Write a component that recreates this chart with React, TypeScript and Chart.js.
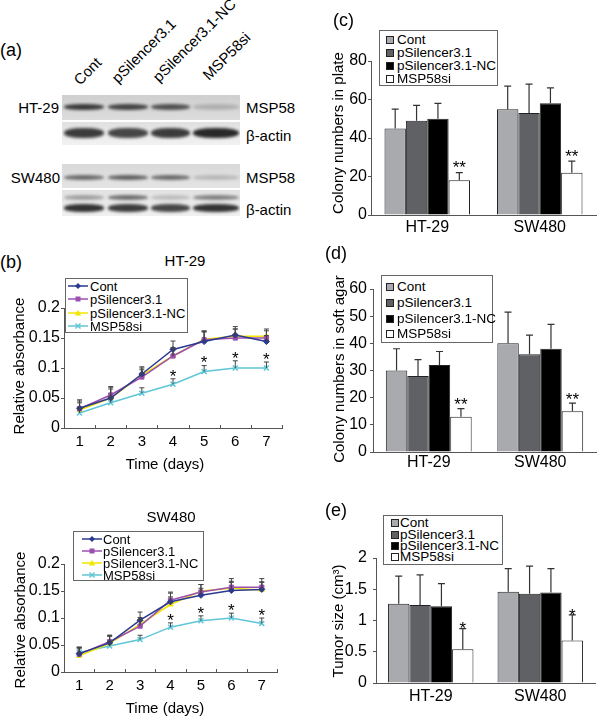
import React, { useEffect, useRef } from "react";
import { Chart, registerables } from "chart.js";
Chart.register(...registerables);

const FONT = "'Liberation Sans', Arial, Helvetica, sans-serif";
const AX = "#555";

// ---------------- data ----------------
const seriesNames = ["Cont", "pSilencer3.1", "pSilencer3.1-NC", "MSP58si"];
const days = ["1", "2", "3", "4", "5", "6", "7"];
const cellLines = ["HT-29", "SW480"];

// (b) HT-29 growth
const htCont = [0.033, 0.05, 0.09, 0.131, 0.144, 0.155, 0.144];
const htPsil = [0.032, 0.055, 0.085, 0.12, 0.147, 0.15, 0.15];
const htNc = [0.03, 0.05, 0.088, 0.12, 0.148, 0.153, 0.153];
const htMsp = [0.025, 0.042, 0.058, 0.073, 0.094, 0.1, 0.1];
const htContErr = [0.014, 0.018, 0.012, 0.014, 0.016, 0.014, 0.01];
const htPsilErr = [0.013, 0.014, 0.012, 0.013, 0.014, 0.015, 0.012];
const htNcErr = [0.012, 0.015, 0.012, 0.014, 0.014, 0.012, 0.012];
const htMspErr = [0.008, 0.009, 0.009, 0.009, 0.01, 0.012, 0.01];
const htStars = ["", "", "", "*", "*", "*", "*"];

// (b) SW480 growth
const swCont = [0.034, 0.054, 0.096, 0.13, 0.142, 0.151, 0.153];
const swPsil = [0.033, 0.056, 0.085, 0.133, 0.148, 0.157, 0.157];
const swNc = [0.03, 0.053, 0.088, 0.125, 0.15, 0.155, 0.152];
const swMsp = [0.036, 0.048, 0.06, 0.083, 0.095, 0.1, 0.09];
const swContErr = [0.012, 0.014, 0.015, 0.016, 0.013, 0.015, 0.014];
const swPsilErr = [0.012, 0.012, 0.012, 0.015, 0.014, 0.016, 0.016];
const swNcErr = [0.013, 0.013, 0.013, 0.014, 0.012, 0.013, 0.014];
const swMspErr = [0.01, 0.008, 0.008, 0.008, 0.009, 0.009, 0.01];
const swStars = ["", "", "", "*", "*", "*", "*"];

// (c) colony numbers in plate
const plateCont = [45, 55];
const platePsil = [49, 53];
const plateNc = [50, 58];
const plateMsp = [18, 22];
const plateContErr = [10, 12];
const platePsilErr = [8, 15];
const plateNcErr = [8, 8];
const plateMspErr = [4, 6];
const plateStars = ["**", "**"];

// (d) colony numbers in soft agar
const agarCont = [30, 40];
const agarPsil = [28, 36];
const agarNc = [32, 38];
const agarMsp = [13, 15];
const agarContErr = [8, 11.5];
const agarPsilErr = [6, 7];
const agarNcErr = [5, 9];
const agarMspErr = [3, 3];
const agarStars = ["**", "**"];

// (e) tumor size
const tumorCont = [1.27, 1.46];
const tumorPsil = [1.25, 1.43];
const tumorNc = [1.23, 1.45];
const tumorMsp = [0.54, 0.68];
const tumorContErr = [0.44, 0.37];
const tumorPsilErr = [0.48, 0.44];
const tumorNcErr = [0.36, 0.38];
const tumorMspErr = [0.33, 0.41];
const tumorStars = ["*", "*"];

// ---------------- styles ----------------
const LINE_COLORS = ["#2b3a8f", "#9c4fb0", "#f2e600", "#5fc6d6"];
const POINT_STYLES = ["rectRot", "rect", "triangle", "crossRot"];
const BAR_COLORS = ["#a8aaad", "#5f6165", "#000000", "#ffffff"];

type ErrCfg = {
  errs: (number[] | null)[];
  stars?: (string[] | null)[];
  cap: number;
  color: string;
  lw: number;
  starFont: number;
  starGap: number;
  innerTicks?: number;
};

function makeErrPlugin(cfg: ErrCfg) {
  return {
    id: "errbars",
    afterDatasetsDraw(chart: any) {
      const ctx = chart.ctx;
      const ys = chart.scales.y;
      ctx.save();
      chart.data.datasets.forEach((ds: any, i: number) => {
        const errs = cfg.errs[i];
        if (!errs) return;
        const meta = chart.getDatasetMeta(i);
        meta.data.forEach((el: any, j: number) => {
          const v = ds.data[j] as number;
          const x = el.x;
          const y0 = el.y;
          const y1 = ys.getPixelForValue(v + errs[j]);
          ctx.strokeStyle = cfg.color;
          ctx.lineWidth = cfg.lw;
          ctx.beginPath();
          ctx.moveTo(x, y0);
          ctx.lineTo(x, y1);
          ctx.moveTo(x - cfg.cap, y1);
          ctx.lineTo(x + cfg.cap, y1);
          ctx.stroke();
          const s = cfg.stars && cfg.stars[i] ? cfg.stars[i]![j] : "";
          if (s) {
            ctx.fillStyle = "#000";
            ctx.font = `${cfg.starFont}px ${FONT}`;
            ctx.textAlign = "center";
            ctx.textBaseline = "alphabetic";
            ctx.fillText(s, x, y1 - cfg.starGap + cfg.starFont * 0.575);
          }
        });
      });
      if (cfg.innerTicks) {
        const xs = chart.scales.x;
        const n = chart.data.labels.length;
        ctx.strokeStyle = AX;
        ctx.lineWidth = 1;
        ctx.beginPath();
        for (let k = 1; k <= n; k++) {
          const px = Math.round(xs.left + (k * (xs.right - xs.left)) / n) + 0.5;
          ctx.moveTo(px, xs.top);
          ctx.lineTo(px, xs.top - cfg.innerTicks);
        }
        ctx.stroke();
      }
      ctx.restore();
    },
  };
}

const fmtTick = (v: any) => String(Math.round(Number(v) * 1000) / 1000);

function yScale(min: number, max: number, step: number, W: number, fs: number, pad: number, tl: number) {
  return {
    min,
    max,
    ticks: { stepSize: step, font: { family: FONT, size: fs }, color: "#000", padding: pad, callback: fmtTick },
    grid: { display: true, drawOnChartArea: false, drawTicks: true, tickLength: tl, color: AX },
    border: { display: true, color: AX, width: 1 },
    afterFit: (s: any) => {
      s.width = W;
      s.paddingTop = 0;
      s.paddingBottom = 0;
      s.paddingLeft = 0;
      s.paddingRight = 0;
    },
  };
}

function xScale(H: number, fs: number, pad: number) {
  return {
    type: "category",
    offset: true,
    grid: { display: false, drawTicks: false, drawOnChartArea: false, offset: true },
    border: { display: true, color: AX, width: 1 },
    ticks: { font: { family: FONT, size: fs }, color: "#000", padding: pad, maxRotation: 0, autoSkip: false },
    afterFit: (s: any) => {
      s.height = H;
      s.paddingLeft = 0;
      s.paddingRight = 0;
      s.paddingTop = 0;
      s.paddingBottom = 0;
    },
  };
}

function lineConfig(vals: number[][], errs: number[][], stars: string[], pad: { top: number; right: number }, W: number, H: number): any {
  return {
    type: "line",
    data: {
      labels: days,
      datasets: vals.map((d, i) => ({
        label: seriesNames[i],
        data: d,
        borderColor: LINE_COLORS[i],
        backgroundColor: LINE_COLORS[i],
        borderWidth: 1.5,
        pointStyle: POINT_STYLES[i],
        pointRadius: i === 3 ? 3.5 : 3,
        pointBorderWidth: i === 3 ? 1.5 : 1,
        tension: 0,
        order: i === 0 ? -1 : i,
      })),
    },
    options: {
      animation: false,
      responsive: false,
      maintainAspectRatio: false,
      layout: { padding: { left: 0, top: pad.top, right: pad.right, bottom: 0 } },
      plugins: { legend: { display: false }, tooltip: { enabled: false }, title: { display: false } },
      scales: {
        x: xScale(H, 15, 5),
        y: yScale(0, 0.2, 0.05, W, 16, 1, 3),
      },
    },
    plugins: [
      makeErrPlugin({
        errs,
        stars: [null, null, null, stars],
        cap: 2.5,
        color: "#444",
        lw: 1,
        starFont: 17,
        starGap: 7,
        innerTicks: 3,
      }),
    ],
  };
}

function barConfig(
  vals: number[][],
  errs: number[][],
  stars: string[],
  yMin: number,
  yMax: number,
  step: number,
  catPct: number,
  pad: { top: number; right: number },
  W: number,
  H: number,
  yPad: number,
  xPad: number,
  starFont: number,
  starGap: number
): any {
  return {
    type: "bar",
    data: {
      labels: cellLines,
      datasets: vals.map((d, i) => ({
        label: seriesNames[i],
        data: d,
        backgroundColor: BAR_COLORS[i],
        borderColor: "#222",
        borderWidth: 1,
        barPercentage: 1,
        categoryPercentage: catPct,
      })),
    },
    options: {
      animation: false,
      responsive: false,
      maintainAspectRatio: false,
      layout: { padding: { left: 0, top: pad.top, right: pad.right, bottom: 0 } },
      plugins: { legend: { display: false }, tooltip: { enabled: false }, title: { display: false } },
      scales: {
        x: xScale(H, 16, xPad),
        y: yScale(yMin, yMax, step, W, 16, yPad, 3),
      },
    },
    plugins: [
      makeErrPlugin({
        errs,
        stars: [null, null, null, stars],
        cap: 3.5,
        color: "#333",
        lw: 1.2,
        starFont: starFont,
        starGap: starGap,
      }),
    ],
  };
}

function ChartCanvas({ left, top, width, height, make }: { left: number; top: number; width: number; height: number; make: () => any }) {
  const ref = useRef<HTMLCanvasElement>(null);
  useEffect(() => {
    const chart = new Chart(ref.current as HTMLCanvasElement, make());
    return () => chart.destroy();
  }, []);
  return (
    <canvas
      ref={ref}
      width={width}
      height={height}
      style={{ position: "absolute", left, top, width, height, display: "block" }}
    />
  );
}

// ---------------- HTML text helpers ----------------
function Txt({ x, y, size = 15, anchor = "start", children, rotate = false }: any) {
  const tx = anchor === "middle" ? "-50%" : anchor === "end" ? "-100%" : "0";
  return (
    <div
      style={{
        position: "absolute",
        left: x,
        top: y,
        fontSize: size,
        lineHeight: `${size}px`,
        fontFamily: FONT,
        whiteSpace: "nowrap",
        color: "#000",
        transform: rotate ? "translate(-50%,-50%) rotate(-90deg)" : `translate(${tx},-50%)`,
      }}
    >
      {children}
    </div>
  );
}

function LineSymbol({ i }: { i: number }) {
  const c = LINE_COLORS[i];
  let marker: any = null;
  if (i === 0) marker = <polygon points="10,1 13,4 10,7 7,4" fill={c} />;
  if (i === 1) marker = <rect x={7.5} y={1.5} width={5} height={5} fill={c} />;
  if (i === 2) marker = <polygon points="10,0.8 13.2,6.6 6.8,6.6" fill={c} />;
  if (i === 3)
    marker = (
      <g stroke={c} strokeWidth={1.4}>
        <line x1={7.5} y1={1.5} x2={12.5} y2={6.5} />
        <line x1={12.5} y1={1.5} x2={7.5} y2={6.5} />
      </g>
    );
  return (
    <svg width={20} height={8} style={{ display: "block" }}>
      <line x1={0} y1={4} x2={20} y2={4} stroke={c} strokeWidth={1.5} />
      {marker}
    </svg>
  );
}

function LineLegend({ box, ys, symX, textX }: any) {
  return (
    <>
      <div
        style={{
          position: "absolute",
          left: box[0],
          top: box[1],
          width: box[2],
          height: box[3],
          border: "1px solid #666",
          background: "#fff",
          boxSizing: "border-box",
        }}
      />
      {seriesNames.map((n, i) => (
        <React.Fragment key={n}>
          <div style={{ position: "absolute", left: symX, top: ys[i] - 4 }}>
            <LineSymbol i={i} />
          </div>
          <Txt x={textX} y={ys[i]} size={13}>
            {n}
          </Txt>
        </React.Fragment>
      ))}
    </>
  );
}

function BarLegend({ box, ys, symX, sym, textX }: any) {
  return (
    <>
      <div
        style={{
          position: "absolute",
          left: box[0],
          top: box[1],
          width: box[2],
          height: box[3],
          border: "1px solid #666",
          background: "#fff",
          boxSizing: "border-box",
        }}
      />
      {seriesNames.map((n, i) => (
        <React.Fragment key={n}>
          <div
            style={{
              position: "absolute",
              left: symX,
              top: ys[i] - sym / 2,
              width: sym,
              height: sym,
              background: BAR_COLORS[i],
              border: "1px solid #222",
              boxSizing: "border-box",
            }}
          />
          <Txt x={textX} y={ys[i]} size={13.5}>
            {n}
          </Txt>
        </React.Fragment>
      ))}
    </>
  );
}

// ---------------- western blot (panel a) ----------------
const LANES_X = [
  [64, 104],
  [108, 148],
  [151, 190],
  [193, 239],
];
// baseline start of each rotated lane label
const LANE_ANCHORS = [
  [80, 86],
  [118, 84],
  [159, 83],
  [209, 81],
];

function Strip({ top, h, bg, rows }: { top: number; h: number; bg: string; rows: { cy: number; bh: number; ops: number[]; blur: number }[] }) {
  return (
    <div style={{ position: "absolute", left: 62, top, width: 178, height: h, background: bg, overflow: "hidden" }}>
      {rows.map((r, ri) =>
        LANES_X.map((lx, li) => (
          <div
            key={`${ri}-${li}`}
            style={{
              position: "absolute",
              left: lx[0] - 62,
              width: lx[1] - lx[0],
              top: r.cy - r.bh / 2,
              height: r.bh,
              background: "#1e1e1e",
              borderRadius: "45%",
              opacity: r.ops[li],
              filter: `blur(${r.blur}px)`,
            }}
          />
        ))
      )}
    </div>
  );
}

function Blot() {
  return (
    <>
      <Strip top={95} h={25} bg="linear-gradient(#cfcfcf, #dcdcdc)" rows={[{ cy: 12, bh: 6, ops: [0.85, 0.8, 0.72, 0.2], blur: 1.5 }]} />
      <Strip
        top={122}
        h={23}
        bg="linear-gradient(#e0e0e0, #f2f2f2)"
        rows={[{ cy: 11, bh: 10, ops: [0.85, 0.8, 0.85, 0.95], blur: 1.8 }]}
      />
      <Strip top={164} h={24} bg="linear-gradient(#d9d9d9, #e4e4e4)" rows={[{ cy: 13, bh: 5, ops: [0.6, 0.65, 0.6, 0.2], blur: 1.5 }]} />
      <Strip
        top={190}
        h={26}
        bg="linear-gradient(#e2e2e2, #f0f0f0)"
        rows={[
          { cy: 7, bh: 5, ops: [0.35, 0.6, 0.2, 0.5], blur: 1.8 },
          { cy: 18, bh: 8, ops: [0.9, 0.85, 0.8, 0.9], blur: 1.6 },
        ]}
      />
      <svg width={300} height={95} style={{ position: "absolute", left: 0, top: 0, overflow: "visible" }}>
        {seriesNames.map((n, i) => (
          <text
            key={n}
            x={LANE_ANCHORS[i][0]}
            y={LANE_ANCHORS[i][1]}
            fontSize={15}
            fontFamily={FONT}
            fill="#000"
            transform={`rotate(-45 ${LANE_ANCHORS[i][0]} ${LANE_ANCHORS[i][1]})`}
          >
            {n}
          </text>
        ))}
      </svg>
      <Txt x={59} y={107} anchor="end">HT-29</Txt>
      <Txt x={246} y={107}>MSP58</Txt>
      <Txt x={246} y={135}>β-actin</Txt>
      <Txt x={60} y={177} anchor="end">SW480</Txt>
      <Txt x={246} y={177}>MSP58</Txt>
      <Txt x={246} y={209}>β-actin</Txt>
    </>
  );
}

export default function App() {
  return (
    <div
      style={{
        position: "absolute",
        left: 0,
        top: 0,
        width: 600,
        height: 716,
        background: "#fff",
        fontFamily: FONT,
        overflow: "hidden",
      }}
    >
      <Blot />

      {/* (b) HT-29 */}
      <ChartCanvas
        left={0}
        top={290}
        width={290}
        height={165}
        make={() =>
          lineConfig([htCont, htPsil, htNc, htMsp], [htContErr, htPsilErr, htNcErr, htMspErr], htStars, { top: 18, right: 8 }, 64, 27)
        }
      />
      {/* (b) SW480 */}
      <ChartCanvas
        left={0}
        top={540}
        width={285}
        height={160}
        make={() =>
          lineConfig([swCont, swPsil, swNc, swMsp], [swContErr, swPsilErr, swNcErr, swMspErr], swStars, { top: 24, right: 8 }, 64, 28)
        }
      />
      {/* (c) */}
      <ChartCanvas
        left={300}
        top={0}
        width={300}
        height={245}
        make={() =>
          barConfig(
            [plateCont, platePsil, plateNc, plateMsp],
            [plateContErr, platePsilErr, plateNcErr, plateMspErr],
            plateStars,
            0,
            80,
            10,
            0.76,
            { top: 61, right: 4 },
            71,
            30,
            1,
            3,
            17,
            9
          )
        }
      />
      {/* (d) */}
      <ChartCanvas
        left={300}
        top={240}
        width={300}
        height={240}
        make={() =>
          barConfig(
            [agarCont, agarPsil, agarNc, agarMsp],
            [agarContErr, agarPsilErr, agarNcErr, agarMspErr],
            agarStars,
            0,
            60,
            10,
            0.77,
            { top: 49, right: 4 },
            73,
            28,
            3,
            1,
            17,
            8
          )
        }
      />
      {/* (e) */}
      <ChartCanvas
        left={300}
        top={470}
        width={300}
        height={246}
        make={() =>
          barConfig(
            [tumorCont, tumorPsil, tumorNc, tumorMsp],
            [tumorContErr, tumorPsilErr, tumorNcErr, tumorMspErr],
            tumorStars,
            0,
            2,
            0.5,
            0.78,
            { top: 88, right: 5 },
            76,
            33,
            6,
            4,
            17,
            4
          )
        }
      />

      {/* panel labels */}
      <Txt x={0} y={50} size={18}>(a)</Txt>
      <Txt x={0} y={262} size={18}>(b)</Txt>
      <Txt x={333} y={20} size={18}>(c)</Txt>
      <Txt x={325} y={253} size={18}>(d)</Txt>
      <Txt x={325} y={510} size={18}>(e)</Txt>

      {/* (b) titles */}
      <Txt x={185} y={260} anchor="middle">HT-29</Txt>
      <Txt x={18} y={366} rotate>Relative absorbance</Txt>
      <Txt x={165} y={463} anchor="middle">Time (days)</Txt>
      <Txt x={171} y={516} anchor="middle">SW480</Txt>
      <Txt x={19} y={620} rotate>Relative absorbance</Txt>
      <Txt x={165} y={707} anchor="middle">Time (days)</Txt>

      {/* bar titles */}
      <Txt x={337} y={133} rotate>Colony numbers in plate</Txt>
      <Txt x={338} y={369} rotate>Colony numbers in soft agar</Txt>
      <Txt x={337} y={621} rotate>Tumor size (cm³)</Txt>

      {/* legends */}
      <LineLegend box={[65, 278, 123, 55]} ys={[286, 299, 312.5, 326]} symX={68} textX={90} />
      <LineLegend box={[73, 531, 131, 50]} ys={[539, 551, 563, 575]} symX={82} textX={103} />
      <BarLegend box={[379, 30, 119, 56]} ys={[40, 53, 66, 79]} symX={386} sym={8} textX={397} />
      <BarLegend box={[381, 275, 112, 68]} ys={[287, 303, 319, 334]} symX={386} sym={8} textX={397} />
      <BarLegend box={[383, 515, 120, 50]} ys={[523, 535, 546, 557]} symX={391} sym={8} textX={400} />
    </div>
  );
}
